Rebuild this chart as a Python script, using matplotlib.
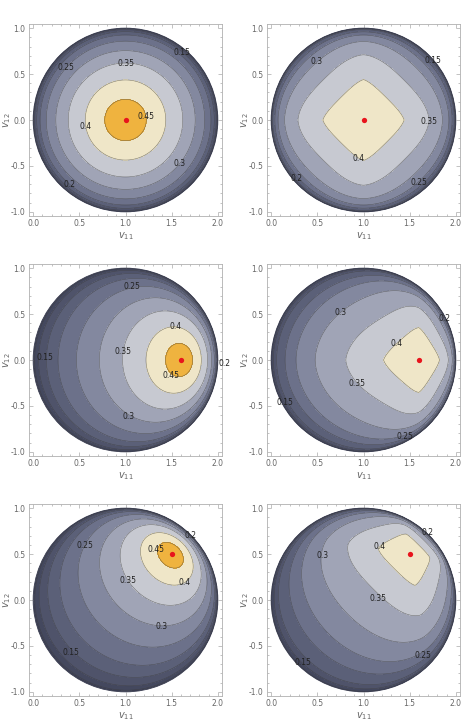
import numpy as np
import matplotlib
matplotlib.use("Agg")
import matplotlib.pyplot as plt
from matplotlib.patches import Circle
from matplotlib.ticker import MultipleLocator, FormatStrFormatter

# ─────────────────────────────────────────────────────────────────────────────
# DATA
# ─────────────────────────────────────────────────────────────────────────────

LEVELS = [0.05, 0.10, 0.15, 0.20, 0.25, 0.30, 0.35, 0.40, 0.45]
BAND_BOUNDS = [-0.01] + LEVELS + [0.6]
BAND_COLORS = ["#3c3f54", "#44485e", "#4f536a", "#5b6078", "#6c718a",
               "#83889f", "#a0a4b6", "#c7c9d1", "#efe6c8", "#efb33f"]

# distance from the optimum (after moving it to the disk centre) at which
# each contour value sits, left column (round) and right column (diamond)
ROUND_T = [0.0, 0.225, 0.436, 0.62, 0.755, 0.858, 0.925, 0.962, 0.985, 0.996, 1.0]
ROUND_V = [0.485, 0.45, 0.40, 0.35, 0.30, 0.25, 0.20, 0.15, 0.10, 0.05, 0.0]
DIAM_T = [0.0, 0.44, 0.71, 0.855, 0.925, 0.96, 0.985, 0.994, 0.999, 1.0]
DIAM_V = [0.43, 0.40, 0.35, 0.30, 0.25, 0.20, 0.15, 0.10, 0.05, 0.0]

# p-norm exponent of the right column vs. distance (diamond -> circle)
NORM_T = [0.0, 0.3, 0.6, 0.8, 1.0]
NORM_P = [1.1, 1.15, 1.4, 1.7, 2.0]

# optimum (red dot) per row
OPTIMA = [(1.0, 0.0), (1.6, 0.0), (1.5, 0.5)]

# contour labels per panel: (text, v11, v12)
LABELS = {
    (0, 0): [("0.15", 1.614, 0.74), ("0.25", 0.36, 0.567), ("0.35", 1.01, 0.614),
             ("0.4", 0.57, -0.072), ("0.45", 1.225, 0.036), ("0.3", 1.585, -0.47),
             ("0.2", 0.396, -0.704)],
    (0, 1): [("0.3", 0.492, 0.632), ("0.15", 1.749, 0.65), ("0.35", 1.713, -0.011),
             ("0.4", 0.948, -0.415), ("0.2", 0.276, -0.632), ("0.25", 1.605, -0.679)],
    (1, 0): [("0.25", 1.074, 0.80), ("0.4", 1.539, 0.37), ("0.35", 0.973, 0.092),
             ("0.15", 0.126, 0.03), ("0.2", 2.07, -0.037), ("0.45", 1.495, -0.172),
             ("0.3", 1.038, -0.612)],
    (1, 1): [("0.3", 0.754, 0.522), ("0.2", 1.88, 0.45), ("0.4", 1.361, 0.183),
             ("0.35", 0.934, -0.252), ("0.15", 0.151, -0.464), ("0.25", 1.451, -0.835)],
    (2, 0): [("0.2", 1.70, 0.70), ("0.25", 0.559, 0.591), ("0.45", 1.333, 0.555),
             ("0.35", 1.027, 0.208), ("0.4", 1.64, 0.19), ("0.3", 1.395, -0.285),
             ("0.15", 0.414, -0.569)],
    (2, 1): [("0.2", 1.695, 0.73), ("0.4", 1.174, 0.584), ("0.3", 0.553, 0.482),
             ("0.35", 1.156, 0.018), ("0.25", 1.641, -0.606), ("0.15", 0.348, -0.679)],
}


# ─────────────────────────────────────────────────────────────────────────────
# FIELD
# ─────────────────────────────────────────────────────────────────────────────

def shift_to_centre(x, y, ox, oy):
    # Klein-disk translation taking the optimum to the disk centre
    px, py = x - 1.0, y
    ax_, ay_ = ox - 1.0, oy
    g = 1.0 / np.sqrt(1.0 - (ax_**2 + ay_**2))
    k = g / (1.0 + g)
    dot = ax_ * px + ay_ * py
    with np.errstate(all="ignore"):
        ux = (-ax_ + px / g + k * dot * ax_) / (1.0 - dot)
        uy = (-ay_ + py / g + k * dot * ay_) / (1.0 - dot)
    return ux, uy


def field(X, Y, opt, diamond):
    ux, uy = shift_to_centre(X, Y, *opt)
    t = np.clip(np.nan_to_num(np.hypot(ux, uy), nan=1.0), 0, 1)
    if diamond:
        p = np.interp(t, NORM_T, NORM_P)
        with np.errstate(all="ignore"):
            n = (np.abs(ux) ** p + np.abs(uy) ** p) ** (1.0 / p)
        n = np.clip(np.nan_to_num(n, nan=1.0), 0, 1)
        val = np.interp(n, DIAM_T, DIAM_V)
    else:
        val = np.interp(t, ROUND_T, ROUND_V)
    outside = (X - 1.0) ** 2 + Y ** 2 >= 1.0
    return np.where(outside, 0.0, val)


# ─────────────────────────────────────────────────────────────────────────────
# PLOT
# ─────────────────────────────────────────────────────────────────────────────

fig = plt.figure(figsize=(4.68, 7.25), dpi=100)

col_left = [29 / 468, 267 / 468]
row_top = [24, 264, 504]
ax_w, ax_h = 193 / 468, 192 / 725

xs = np.linspace(-0.05, 2.05, 800)
ys = np.linspace(-1.05, 1.05, 800)
X, Y = np.meshgrid(xs, ys)

for r, opt in enumerate(OPTIMA):
    for c in range(2):
        ax = fig.add_axes([col_left[c], 1 - (row_top[r] + 192) / 725, ax_w, ax_h])
        Z = field(X, Y, opt, diamond=(c == 1))

        disk = Circle((1.0, 0.0), 1.0, transform=ax.transData,
                      facecolor="none", edgecolor="#3a3d50", lw=0.6, zorder=3)
        ax.add_patch(disk)
        cf = ax.contourf(X, Y, Z, levels=BAND_BOUNDS, colors=BAND_COLORS)
        cf.set_clip_path(disk)
        cl = ax.contour(X, Y, Z, levels=LEVELS, colors="#3c3c3c",
                        linewidths=0.4, alpha=0.65)
        cl.set_clip_path(disk)

        ax.plot(opt[0], opt[1], "o", color="#e8141c", ms=3.8, mec="none", zorder=5)

        for txt, lx, ly in LABELS[(r, c)]:
            ax.text(lx, ly, txt, fontsize=5.5, color="#222222",
                    ha="center", va="center", zorder=6, clip_on=False)

        ax.set_xlim(-0.045, 2.045)
        ax.set_ylim(-1.045, 1.045)
        ax.xaxis.set_major_locator(MultipleLocator(0.5))
        ax.yaxis.set_major_locator(MultipleLocator(0.5))
        ax.xaxis.set_minor_locator(MultipleLocator(0.1))
        ax.yaxis.set_minor_locator(MultipleLocator(0.1))
        ax.xaxis.set_major_formatter(FormatStrFormatter("%.1f"))
        ax.yaxis.set_major_formatter(FormatStrFormatter("%.1f"))
        ax.tick_params(which="both", direction="in", top=True, right=True,
                       color="#aaaaaa", width=0.5, labelsize=5.5,
                       labelcolor="#666666", pad=2.5)
        ax.tick_params(which="major", length=3)
        ax.tick_params(which="minor", length=1.5)
        for s in ax.spines.values():
            s.set_color("#b0b0b0")
            s.set_linewidth(0.6)
        ax.set_xlabel("$v_{11}$", fontsize=7, color="#666666", labelpad=1.5)
        ax.set_ylabel("$v_{12}$", fontsize=7, color="#666666")
        ax.yaxis.set_label_coords(-0.085, 0.5)

fig.savefig("out.png", dpi=100)
